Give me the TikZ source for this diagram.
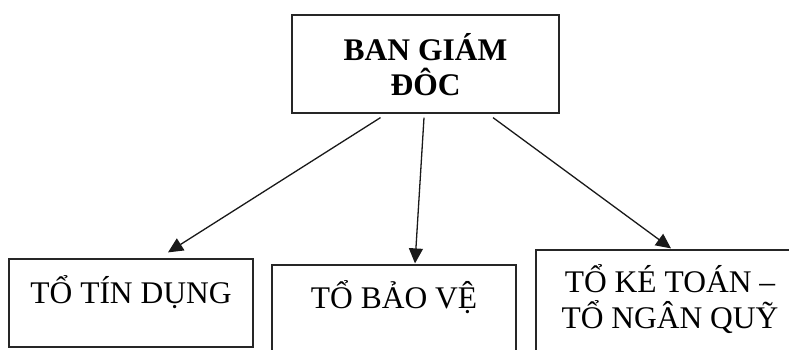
\documentclass[tikz,border=0pt]{standalone}
\usepackage{fontspec}
\setmainfont{Liberation Serif}
\usetikzlibrary{arrows.meta}
\begin{document}
\begin{tikzpicture}[x=1pt,y=-1pt,
  unit/.style={draw=black!85,line width=1.2pt,inner sep=0pt,fill=white},
  lbl/.style={inner sep=0pt,anchor=base,font=\fontsize{31.5}{35}\selectfont},
  boldlbl/.style={lbl,font=\fontsize{31.5}{35}\selectfont\bfseries},
  link/.style={draw=black!90,line width=1.3pt,-{Triangle[length=15pt,width=14pt]}}]
\useasboundingbox (0,0) rectangle (789,349);
\clip (0,0) rectangle (789,349);
% management board
\node[unit,minimum width=267pt,minimum height=98pt] (top) at (425.5,64) {};
\node[boldlbl] (topA) at (425.5,60) {BAN GIÁM};
\node[boldlbl] (topB) at (425.5,95) {ĐÔC};
% departments
\node[unit,minimum width=244pt,minimum height=88pt] (b1) at (131,303) {};
\node[lbl] (t1) at (131,303) {TỔ TÍN DỤNG};
\node[unit,minimum width=244pt,minimum height=90pt] (b2) at (394,310) {};
\node[lbl] (t2) at (394,308) {TỔ BẢO VỆ};
\node[unit,minimum width=268pt,minimum height=110pt] (b3) at (670,305) {};
\node[lbl] (t3a) at (670,292) {TỔ KÉ TOÁN –};
\node[lbl] (t3b) at (670,328) {TỔ NGÂN QUỸ};
% reporting lines
\draw[link] ([xshift=-45pt,yshift=-4pt]top.south) -- ([xshift=37pt,yshift=6pt]b1.north);
\draw[link] ([xshift=-1.5pt,yshift=-4pt]top.south) -- ([xshift=21pt,yshift=1pt]b2.north);
\draw[link] ([xshift=67.5pt,yshift=-4pt]top.south) -- ([xshift=1pt,yshift=1pt]b3.north);
\end{tikzpicture}
\end{document}
